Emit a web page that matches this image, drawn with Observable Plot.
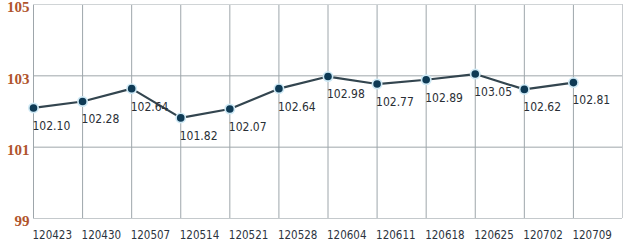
<!DOCTYPE html>
<html>
<head>
<meta charset="utf-8">
<script src="https://cdn.jsdelivr.net/npm/d3@7"></script>
<script src="https://cdn.jsdelivr.net/npm/@observablehq/plot@0.6"></script>
<style>
  html, body { margin: 0; padding: 0; background: #fff; }
  #chart svg { display: block; }
</style>
</head>
<body>
<div id="chart"></div>
<script>
const dates = ["120423","120430","120507","120514","120521","120528","120604","120611","120618","120625","120702","120709"];
const values = [102.10, 102.28, 102.64, 101.82, 102.07, 102.64, 102.98, 102.77, 102.89, 103.05, 102.62, 102.81];
const yTicks = [99, 101, 103, 105];

const data = dates.map((d, i) => ({i, date: d, value: values[i]}));
const idx = dates.map((d, i) => i);
const gridIdx = [...idx, dates.length];
const labelFont = "'Liberation Sans Narrow', 'DejaVu Sans Condensed', 'Liberation Sans', sans-serif";

const chart = Plot.plot({
  width: 627,
  height: 244,
  marginLeft: 33,
  marginRight: 5,
  marginTop: 4,
  marginBottom: 26,
  x: {type: "linear", domain: [0, dates.length], axis: null, label: null},
  y: {domain: [99, 105], axis: null, label: null},
  marks: [
    Plot.gridY(yTicks, {stroke: "#9ea6ab", strokeOpacity: 1, strokeWidth: 1}),
    Plot.gridX(gridIdx, {stroke: "#9ea6ab", strokeOpacity: 1, strokeWidth: 1}),
    Plot.ruleY([105], {stroke: "#d0d4d6"}),
    Plot.ruleY([99], {stroke: "#c4c9cc"}),
    Plot.ruleX([dates.length], {stroke: "#c8cccf"}),
    Plot.axisY(yTicks, {
      label: null, tickSize: 0, tickPadding: 4, dy: 3,
      fontFamily: "'Liberation Serif', 'DejaVu Serif', serif",
      fontWeight: "bold", fontSize: 15, fill: "#b0542c"
    }),
    Plot.axisX(idx, {
      label: null, tickSize: 0, tickPadding: 12, textAnchor: "start", dx: -1,
      tickFormat: i => dates[i],
      fontFamily: labelFont, fontSize: 11.5, fill: "#2c3440"
    }),
    Plot.line(data, {x: "i", y: "value", stroke: "#33454f", strokeWidth: 2.2}),
    Plot.dot(data, {x: "i", y: "value", r: 5.5, fill: "#cfe9f5", stroke: "none"}),
    Plot.dot(data, {x: "i", y: "value", r: 3.8, fill: "#0e3a55", stroke: "none"}),
    Plot.text(data, {
      x: "i", y: "value", text: d => d.value.toFixed(2),
      textAnchor: "start", dx: -1, dy: 18,
      fontFamily: labelFont, fontSize: 12, fill: "#2a2f36"
    })
  ]
});
document.getElementById("chart").appendChild(chart);
</script>
</body>
</html>
